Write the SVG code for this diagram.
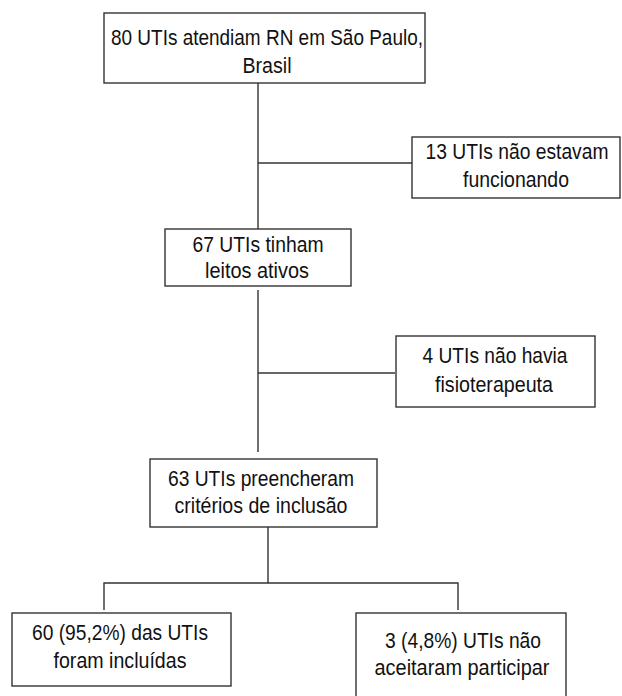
<svg xmlns="http://www.w3.org/2000/svg" width="622" height="696" viewBox="0 0 622 696">
<style>
.box{fill:#fff;stroke:#333;stroke-width:1.4}
.ln{fill:none;stroke:#333;stroke-width:1.4}
text{font-family:"Liberation Sans",Arial,sans-serif;font-size:21.5px;fill:#111;text-anchor:middle}
</style>
<rect width="622" height="696" fill="#fff"/>
<g id="connectors">
<path class="ln" d="M258,83 V229"/>
<path class="ln" d="M258,163 H412"/>
<path class="ln" d="M258,290 V452"/>
<path class="ln" d="M258,373 H395"/>
<path class="ln" d="M268,527 V583"/>
<path class="ln" d="M104,610 V583 H458 V610"/>
</g>
<g id="n1">
<rect class="box" x="104" y="13" width="321" height="70"/>
<text x="267" y="45" textLength="312" lengthAdjust="spacingAndGlyphs">80 UTIs atendiam RN em São Paulo,</text>
<text x="267" y="73" textLength="49" lengthAdjust="spacingAndGlyphs">Brasil</text>
</g>
<g id="n2">
<rect class="box" x="412" y="137" width="208" height="61"/>
<text x="517" y="159" textLength="183" lengthAdjust="spacingAndGlyphs">13 UTIs não estavam</text>
<text x="516" y="187" textLength="106" lengthAdjust="spacingAndGlyphs">funcionando</text>
</g>
<g id="n3">
<rect class="box" x="165" y="229" width="186" height="57"/>
<text x="258" y="252" textLength="131" lengthAdjust="spacingAndGlyphs">67 UTIs tinham</text>
<text x="257" y="278" textLength="104" lengthAdjust="spacingAndGlyphs">leitos ativos</text>
</g>
<g id="n4">
<rect class="box" x="396" y="336" width="199" height="71"/>
<text x="495" y="363" textLength="145" lengthAdjust="spacingAndGlyphs">4 UTIs não havia</text>
<text x="494" y="392" textLength="118" lengthAdjust="spacingAndGlyphs">fisioterapeuta</text>
</g>
<g id="n5">
<rect class="box" x="150" y="459" width="227" height="68"/>
<text x="261" y="486" textLength="186" lengthAdjust="spacingAndGlyphs">63 UTIs preencheram</text>
<text x="261" y="513" textLength="173" lengthAdjust="spacingAndGlyphs">critérios de inclusão</text>
</g>
<g id="n6">
<rect class="box" x="12" y="613" width="219" height="73"/>
<text x="120" y="640" textLength="176" lengthAdjust="spacingAndGlyphs">60 (95,2%) das UTIs</text>
<text x="120" y="668" textLength="133" lengthAdjust="spacingAndGlyphs">foram incluídas</text>
</g>
<g id="n7">
<rect class="box" x="356" y="613" width="210" height="95"/>
<text x="463" y="648" textLength="156" lengthAdjust="spacingAndGlyphs">3 (4,8%) UTIs não</text>
<text x="462" y="675" textLength="175" lengthAdjust="spacingAndGlyphs">aceitaram participar</text>
</g>
</svg>
